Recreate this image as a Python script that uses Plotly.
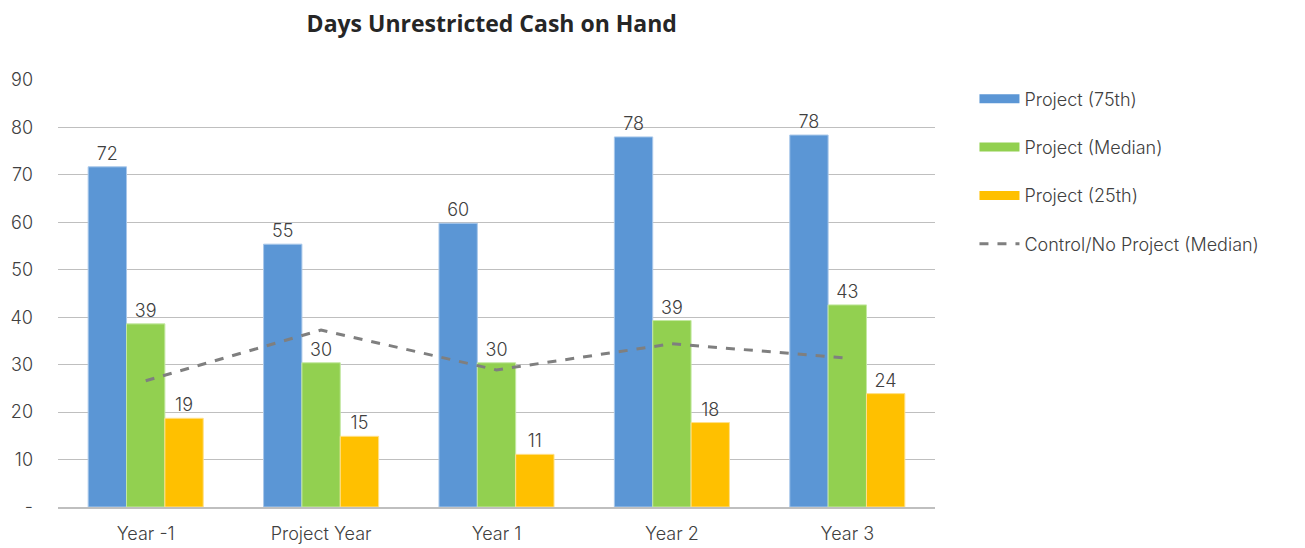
import plotly.graph_objects as go

# Data
years = ["Year -1", "Project Year", "Year 1", "Year 2", "Year 3"]
p75 = [71.7, 55.4, 59.8, 78.0, 78.4]
median = [38.6, 30.4, 30.4, 39.3, 42.6]
p25 = [18.7, 14.9, 11.1, 17.8, 23.9]
control = [26.6, 37.3, 28.9, 34.4, 31.4]
ytick_vals = [0, 10, 20, 30, 40, 50, 60, 70, 80, 90]
ytick_text = ["-", "10", "20", "30", "40", "50", "60", "70", "80", "90"]

font_main = "Inter"
txt_color = "#404040"

fig = go.Figure()

series = [
    ("Project (75th)", p75, "#5b96d5", "#a9c8ea"),
    ("Project (Median)", median, "#92d050", "#c4e8a3"),
    ("Project (25th)", p25, "#ffc000", "#ffe08a"),
]
for i, (name, vals, col, edge) in enumerate(series):
    fig.add_trace(go.Bar(
        x=years, y=vals, name=name,
        marker=dict(color=col, line=dict(color=edge, width=1)),
        text=[f"{v:.0f}" for v in vals], textposition="outside",
        textfont=dict(size=18, color=txt_color, family=font_main, weight=300),
        cliponaxis=False, showlegend=False,
    ))
    # legend swatch as a wide rectangle
    fig.add_trace(go.Scatter(
        x=[None], y=[None], name=name, mode="lines",
        line=dict(color=col, width=9), legendgroup=str(i),
    ))

fig.add_trace(go.Scatter(
    x=years, y=control, name="Control/No Project (Median)", mode="lines",
    line=dict(color="#7f7f7f", width=3, dash="dash"), legendgroup="3",
))

fig.update_layout(
    width=1297, height=540,
    margin=dict(l=50, r=370, t=72, b=41, autoexpand=False),
    paper_bgcolor="white", plot_bgcolor="white",
    barmode="group", bargap=0.344, bargroupgap=0,
    title=dict(text="<b>Days Unrestricted Cash on Hand</b>", x=0.373, xanchor="center",
               y=1 - 16 / 540, yanchor="middle",
               font=dict(family="Open Sans", size=23, color="#262626")),
    font=dict(family=font_main, size=18, color=txt_color, weight=300),
    legend=dict(x=1.045, xanchor="left", y=0.999, yanchor="top",
                font=dict(size=18, color=txt_color, family=font_main, weight=300),
                tracegroupgap=22, itemwidth=40, bgcolor="rgba(0,0,0,0)"),
    showlegend=True,
)
fig.update_xaxes(showgrid=False, showline=True, linecolor="#bfbfbf", linewidth=2,
                 tickfont=dict(size=18, color=txt_color), ticks="", ticklabelstandoff=9,
                 automargin=False)
fig.update_yaxes(range=[0, 90], tickvals=ytick_vals, ticktext=ytick_text,
                 showgrid=True, gridcolor="#bfbfbf", gridwidth=1, zeroline=False,
                 tickfont=dict(size=18, color=txt_color), ticks="", ticklabelstandoff=24,
                 automargin=False)

fig.write_html("out.html")
